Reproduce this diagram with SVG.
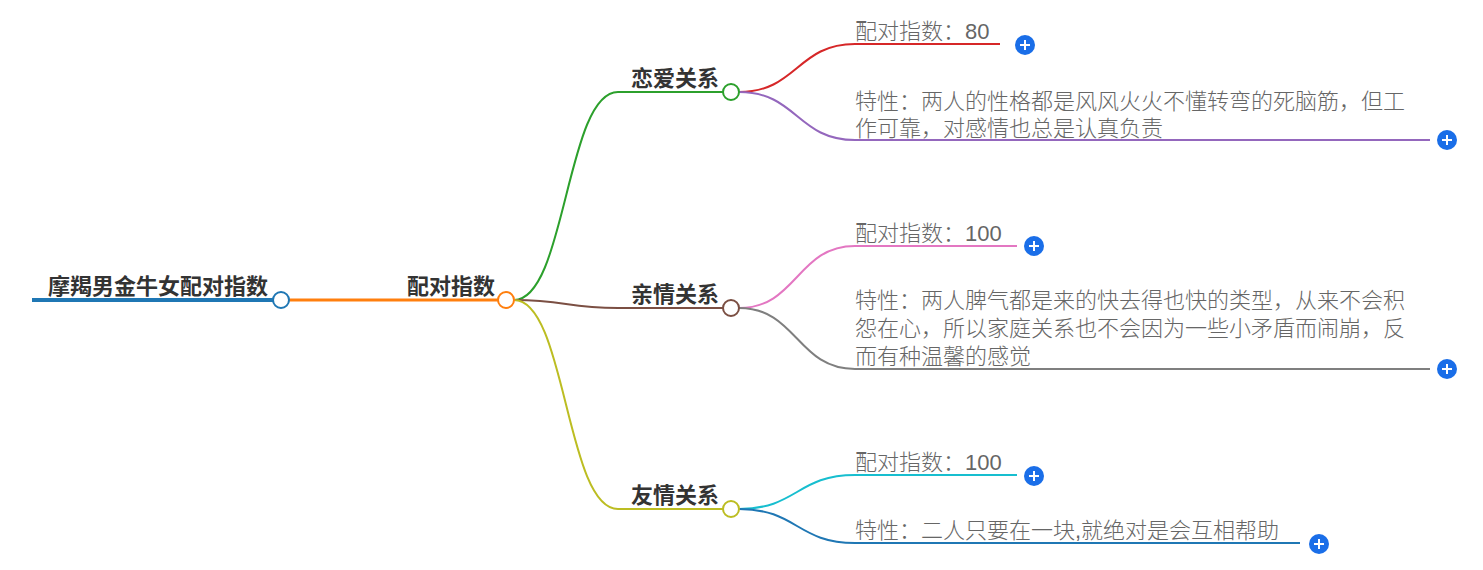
<svg xmlns="http://www.w3.org/2000/svg" width="1483" height="570" viewBox="0 0 1483 570">
<style>
.b{font-family:"Noto Sans CJK SC","Noto Sans",sans-serif;font-size:22px;font-weight:700;fill:#333}
.l{font-family:"Liberation Sans","Noto Sans CJK SC",sans-serif;font-size:22px;font-weight:300;fill:#666}
.c{fill:none;stroke-width:2}
.n{fill:#fff;stroke-width:2}
.p{fill:#1a6ee8}
.pl{stroke:#fff;stroke-width:2;fill:none}
</style>
<defs>
<g id="plus"><circle class="p" r="10"/><path class="pl" d="M-5,0H5M0,-5V5"/></g>
</defs>
<g id="connectors">
<path d="M32,300H273" stroke="#1f77b4" stroke-width="4" fill="none"/>
<path d="M289,300H498" stroke="#ff7f0e" stroke-width="3" fill="none"/>
<path class="c" stroke="#2ca02c" d="M514,300C566,300 566,92 618,92H723"/>
<path class="c" stroke="#7b4f43" d="M514,300C566,300 566,308 618,308H723"/>
<path class="c" stroke="#bcbd22" d="M514,300C566,300 566,509 618,509H723"/>
<path class="c" stroke="#d62728" d="M739,92C797,92 797,44 855,44H1000"/>
<path class="c" stroke="#9467bd" d="M739,92C797,92 797,140 855,140H1430"/>
<path class="c" stroke="#e377c2" d="M739,308C797,308 797,246 855,246H1017"/>
<path class="c" stroke="#7f7f7f" d="M739,308C797,308 797,369 855,369H1430"/>
<path class="c" stroke="#17becf" d="M739,509C797,509 797,475 855,475H1017"/>
<path class="c" stroke="#1f77b4" d="M739,509C797,509 797,543 855,543H1300"/>
</g>
<g id="root">
<text class="b" x="268" y="294" text-anchor="end">摩羯男金牛女配对指数</text>
<circle class="n" cx="281" cy="300" r="8" stroke="#1f77b4"/>
</g>
<g id="main">
<text class="b" x="495" y="294" text-anchor="end">配对指数</text>
<circle class="n" cx="506" cy="300" r="8" stroke="#ff7f0e"/>
</g>
<g id="love">
<text class="b" x="719" y="86" text-anchor="end">恋爱关系</text>
<circle class="n" cx="731" cy="92" r="8" stroke="#2ca02c"/>
</g>
<g id="family">
<text class="b" x="719" y="302" text-anchor="end">亲情关系</text>
<circle class="n" cx="731" cy="308" r="8" stroke="#7b4f43"/>
</g>
<g id="friend">
<text class="b" x="719" y="503" text-anchor="end">友情关系</text>
<circle class="n" cx="731" cy="509" r="8" stroke="#bcbd22"/>
</g>
<g id="love-score">
<text class="l" x="855" y="39">配对指数：80</text>
<use href="#plus" x="1025" y="45"/>
</g>
<g id="love-trait">
<text class="l" x="855" y="109">特性：两人的性格都是风风火火不懂转弯的死脑筋，但工<tspan x="855" dy="27">作可靠，对感情也总是认真负责</tspan></text>
<use href="#plus" x="1447" y="140"/>
</g>
<g id="family-score">
<text class="l" x="855" y="241">配对指数：100</text>
<use href="#plus" x="1034" y="246"/>
</g>
<g id="family-trait">
<text class="l" x="855" y="308">特性：两人脾气都是来的快去得也快的类型，从来不会积<tspan x="855" dy="28">怨在心，所以家庭关系也不会因为一些小矛盾而闹崩，反</tspan><tspan x="855" dy="28">而有种温馨的感觉</tspan></text>
<use href="#plus" x="1447" y="369"/>
</g>
<g id="friend-score">
<text class="l" x="855" y="470">配对指数：100</text>
<use href="#plus" x="1034" y="476"/>
</g>
<g id="friend-trait">
<text class="l" x="855" y="538">特性：二人只要在一块,就绝对是会互相帮助</text>
<use href="#plus" x="1319" y="544"/>
</g>
</svg>
